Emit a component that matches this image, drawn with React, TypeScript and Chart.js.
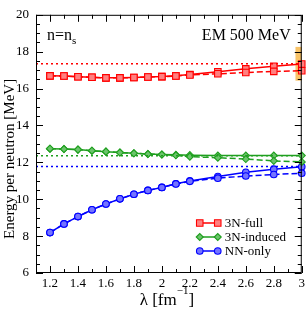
import React, { useEffect, useRef } from "react";
import { Chart, registerables } from "chart.js";

Chart.register(...registerables);

// ---------- data ----------
const lambdas = [1.2, 1.3, 1.4, 1.5, 1.6, 1.7, 1.8, 1.9, 2.0, 2.1, 2.2, 2.4, 2.6, 2.8, 3.0];

const full3N = [16.69, 16.68, 16.64, 16.61, 16.58, 16.58, 16.6, 16.63, 16.65, 16.69, 16.76, 16.91, 17.07, 17.21, 17.33];
const full3NDashed = [16.69, 16.68, 16.64, 16.61, 16.58, 16.58, 16.6, 16.63, 16.65, 16.68, 16.74, 16.8, 16.87, 16.93, 16.97];

const induced3N = [12.74, 12.72, 12.69, 12.63, 12.58, 12.53, 12.49, 12.45, 12.43, 12.41, 12.39, 12.37, 12.37, 12.37, 12.37];
const induced3NDashed = [12.74, 12.72, 12.69, 12.63, 12.58, 12.53, 12.49, 12.45, 12.42, 12.38, 12.31, 12.25, 12.18, 12.08, 12.02];

const nnOnly = [8.19, 8.66, 9.06, 9.43, 9.74, 10.02, 10.27, 10.48, 10.64, 10.84, 10.99, 11.23, 11.46, 11.63, 11.76];
const nnOnlyDashed = [8.19, 8.66, 9.06, 9.43, 9.74, 10.02, 10.27, 10.48, 10.64, 10.83, 10.97, 11.14, 11.26, 11.34, 11.41];

// reference (dotted) levels
const refFull = 17.34;
const refInduced = 12.36;
const refNN = 11.77;

// uncertainty band at lambda = 3.0
const bandX = [2.955, 3.045];
const bandY = [16.43, 18.26];

const seriesLabels = ["3N-full", "3N-induced", "NN-only"];

const xMin = 1.1;
const xMax = 3.0;
const yMin = 6;
const yMax = 20;
const xTicks = [1.2, 1.4, 1.6, 1.8, 2.0, 2.2, 2.4, 2.6, 2.8, 3.0];
const xMinorTicks = [1.1, 1.3, 1.5, 1.7, 1.9, 2.1, 2.3, 2.5, 2.7, 2.9];
const yTicks = [6, 8, 10, 12, 14, 16, 18, 20];
const yMinorTicks = [6.5, 7, 7.5, 8.5, 9, 9.5, 10.5, 11, 11.5, 12.5, 13, 13.5, 14.5, 15, 15.5, 16.5, 17, 17.5, 18.5, 19, 19.5];

const leftLabel = "n=n";
const leftLabelSub = "s";
const rightLabel = "EM 500 MeV";
const yTitle = "Energy per neutron [MeV]";
const xTitleMain = "λ [fm";
const xTitleSup = "−1";
const xTitleEnd = "]";

// ---------- styles ----------
const RED = "#ff0000";
const RED_FILL = "#ff8080";
const GREEN = "#1f9f1f";
const GREEN_FILL = "#6cc46c";
const BLUE = "#0000ff";
const BLUE_FILL = "#7474ff";
const SERIF = "'Liberation Serif', 'DejaVu Serif', serif";

const pts = (ys: number[]) => lambdas.map((x, i) => ({ x, y: ys[i] }));
const hline = (y: number) => [
  { x: xMin, y },
  { x: xMax, y },
];

const styles = [
  { color: RED, fill: RED_FILL, shape: "rect", r: 4.6 },
  { color: GREEN, fill: GREEN_FILL, shape: "rectRot", r: 3.5 },
  { color: BLUE, fill: BLUE_FILL, shape: "circle", r: 3.3 },
];

function drawMarker(ctx: CanvasRenderingContext2D, shape: string, x: number, y: number, r: number, fill: string, stroke: string) {
  ctx.save();
  ctx.beginPath();
  if (shape === "rect") {
    const s = Math.SQRT1_2 * r;
    ctx.rect(x - s, y - s, 2 * s, 2 * s);
  } else if (shape === "rectRot") {
    ctx.moveTo(x - r, y);
    ctx.lineTo(x, y - r);
    ctx.lineTo(x + r, y);
    ctx.lineTo(x, y + r);
    ctx.closePath();
  } else {
    ctx.arc(x, y, r, 0, Math.PI * 2);
  }
  ctx.fillStyle = fill;
  ctx.fill();
  ctx.lineWidth = 1.1;
  ctx.strokeStyle = stroke;
  ctx.stroke();
  ctx.restore();
}

const bandPlugin = {
  id: "band",
  beforeDatasetsDraw(chart: any) {
    const { ctx, chartArea, scales } = chart;
    const x0 = scales.x.getPixelForValue(bandX[0]);
    const x1 = scales.x.getPixelForValue(bandX[1]);
    const y0 = scales.y.getPixelForValue(bandY[1]);
    const y1 = scales.y.getPixelForValue(bandY[0]);
    ctx.save();
    ctx.beginPath();
    ctx.rect(chartArea.left, chartArea.top, chartArea.right - chartArea.left, chartArea.bottom - chartArea.top);
    ctx.clip();
    ctx.fillStyle = "rgba(245, 170, 40, 0.7)";
    ctx.fillRect(x0, y0, x1 - x0, y1 - y0);
    ctx.restore();
  },
};

const framePlugin = {
  id: "frame",
  afterDraw(chart: any) {
    const { ctx, chartArea, scales } = chart;
    const { left, right, top, bottom } = chartArea;
    ctx.save();
    ctx.strokeStyle = "#000";
    ctx.lineWidth = 1;
    ctx.strokeRect(left + 0.5, top + 0.5, right - left - 1, bottom - top - 1);
    const major = 7;
    const minor = 4;
    ctx.beginPath();
    const xt = (v: number, len: number) => {
      const px = Math.round(scales.x.getPixelForValue(v)) + 0.5;
      ctx.moveTo(px, bottom);
      ctx.lineTo(px, bottom - len);
      ctx.moveTo(px, top);
      ctx.lineTo(px, top + len);
    };
    const yt = (v: number, len: number) => {
      const py = Math.round(scales.y.getPixelForValue(v)) + 0.5;
      ctx.moveTo(left, py);
      ctx.lineTo(left + len, py);
      ctx.moveTo(right, py);
      ctx.lineTo(right - len, py);
    };
    xTicks.forEach((v) => xt(v, major));
    xMinorTicks.forEach((v) => xt(v, minor));
    yTicks.forEach((v) => yt(v, major));
    yMinorTicks.forEach((v) => yt(v, minor));
    ctx.stroke();

    // annotations
    ctx.fillStyle = "#000";
    ctx.textBaseline = "alphabetic";
    ctx.font = `16px ${SERIF}`;
    ctx.textAlign = "left";
    const lx = left + 11;
    const ly = top + 25;
    ctx.fillText(leftLabel, lx, ly);
    const w = ctx.measureText(leftLabel).width;
    ctx.font = `11px ${SERIF}`;
    ctx.fillText(leftLabelSub, lx + w, ly + 4);
    ctx.font = `16px ${SERIF}`;
    ctx.textAlign = "right";
    ctx.fillText(rightLabel, right - 11, ly);

    // y title
    ctx.save();
    ctx.font = `15px ${SERIF}`;
    ctx.textAlign = "center";
    ctx.translate(14, (top + bottom) / 2 + 15);
    ctx.rotate(-Math.PI / 2);
    ctx.fillText(yTitle, 0, 0);
    ctx.restore();

    // x title
    ctx.font = `17px ${SERIF}`;
    const wMain = ctx.measureText(xTitleMain).width;
    const wEnd = ctx.measureText(xTitleEnd).width;
    ctx.font = `11px ${SERIF}`;
    const wSup = ctx.measureText(xTitleSup).width;
    const total = wMain + wSup + wEnd;
    const cx = (left + right) / 2 - 2;
    let tx = cx - total / 2;
    const tb = 305;
    ctx.textAlign = "left";
    ctx.font = `17px ${SERIF}`;
    ctx.fillText(xTitleMain, tx, tb);
    tx += wMain;
    ctx.font = `11px ${SERIF}`;
    ctx.fillText(xTitleSup, tx, tb - 11);
    tx += wSup;
    ctx.font = `17px ${SERIF}`;
    ctx.fillText(xTitleEnd, tx, tb);

    // legend
    const legX0 = right - 102;
    const legX1 = right - 84;
    const legTextX = right - 77;
    const legY0 = bottom - 50;
    const legDy = 14;
    ctx.font = `13px ${SERIF}`;
    seriesLabels.forEach((label, i) => {
      const s = styles[i];
      const yy = legY0 + i * legDy;
      ctx.beginPath();
      ctx.strokeStyle = s.color;
      ctx.lineWidth = 1.5;
      ctx.moveTo(legX0, yy);
      ctx.lineTo(legX1, yy);
      ctx.stroke();
      drawMarker(ctx, s.shape, legX0, yy, s.r, s.fill, s.color);
      drawMarker(ctx, s.shape, legX1, yy, s.r, s.fill, s.color);
      ctx.fillStyle = "#000";
      ctx.textAlign = "left";
      ctx.textBaseline = "middle";
      ctx.fillText(label, legTextX, yy + 1);
    });
    ctx.restore();
  },
};

function lineDs(label: string, data: any[], idx: number, dashed: boolean) {
  const s = styles[idx];
  return {
    label,
    data,
    borderColor: s.color,
    backgroundColor: s.fill,
    borderWidth: 1.5,
    borderDash: dashed ? [6, 3] : [],
    pointStyle: s.shape,
    pointRadius: s.r,
    pointBackgroundColor: s.fill,
    pointBorderColor: s.color,
    pointBorderWidth: 1.1,
    fill: false,
    tension: 0,
    clip: false as any,
  };
}

function dotDs(label: string, y: number, color: string) {
  return {
    label,
    data: hline(y),
    borderColor: color,
    borderWidth: 1.5,
    borderDash: [2, 3],
    pointRadius: 0,
    fill: false,
  };
}

const fmtX = (v: number) => Number(v).toFixed(1).replace(/\.0$/, "");

export default function App() {
  const canvasRef = useRef<HTMLCanvasElement | null>(null);

  useEffect(() => {
    if (!canvasRef.current) return;
    const chart = new Chart(canvasRef.current, {
      type: "line",
      data: {
        datasets: [
          dotDs("ref-full", refFull, RED),
          dotDs("ref-induced", refInduced, GREEN),
          dotDs("ref-nn", refNN, BLUE),
          lineDs("3N-full dashed", pts(full3NDashed), 0, true),
          lineDs("3N-induced dashed", pts(induced3NDashed), 1, true),
          lineDs("NN-only dashed", pts(nnOnlyDashed), 2, true),
          lineDs(seriesLabels[0], pts(full3N), 0, false),
          lineDs(seriesLabels[1], pts(induced3N), 1, false),
          lineDs(seriesLabels[2], pts(nnOnly), 2, false),
        ] as any,
      },
      options: {
        animation: false,
        responsive: true,
        maintainAspectRatio: false,
        layout: { padding: { top: 5, right: 5, left: 0, bottom: 0 } },
        plugins: {
          legend: { display: false },
          tooltip: { enabled: false },
          title: { display: false },
        },
        events: [],
        scales: {
          x: {
            type: "linear",
            min: xMin,
            max: xMax,
            grid: { display: false, drawTicks: false },
            border: { display: false },
            ticks: {
              color: "#000",
              font: { family: SERIF, size: 13 },
              padding: 3,
              maxRotation: 0,
              autoSkip: false,
              callback: (v: any) => fmtX(v),
            },
            afterBuildTicks: (s: any) => {
              s.ticks = xTicks.map((v) => ({ value: v }));
            },
            afterFit: (s: any) => {
              s.height = 38;
            },
          },
          y: {
            type: "linear",
            min: yMin,
            max: yMax,
            grid: { display: false, drawTicks: false },
            border: { display: false },
            ticks: {
              color: "#000",
              font: { family: SERIF, size: 13 },
              padding: 7,
              autoSkip: false,
              callback: (v: any) => String(v),
            },
            afterBuildTicks: (s: any) => {
              s.ticks = yTicks.map((v) => ({ value: v }));
            },
            afterFit: (s: any) => {
              s.width = 36;
            },
          },
        },
      } as any,
      plugins: [bandPlugin, framePlugin],
    });
    return () => chart.destroy();
  }, []);

  return (
    <div style={{ position: "fixed", left: 0, top: 0, width: 308, height: 311, background: "#fff" }}>
      <canvas ref={canvasRef} />
    </div>
  );
}
